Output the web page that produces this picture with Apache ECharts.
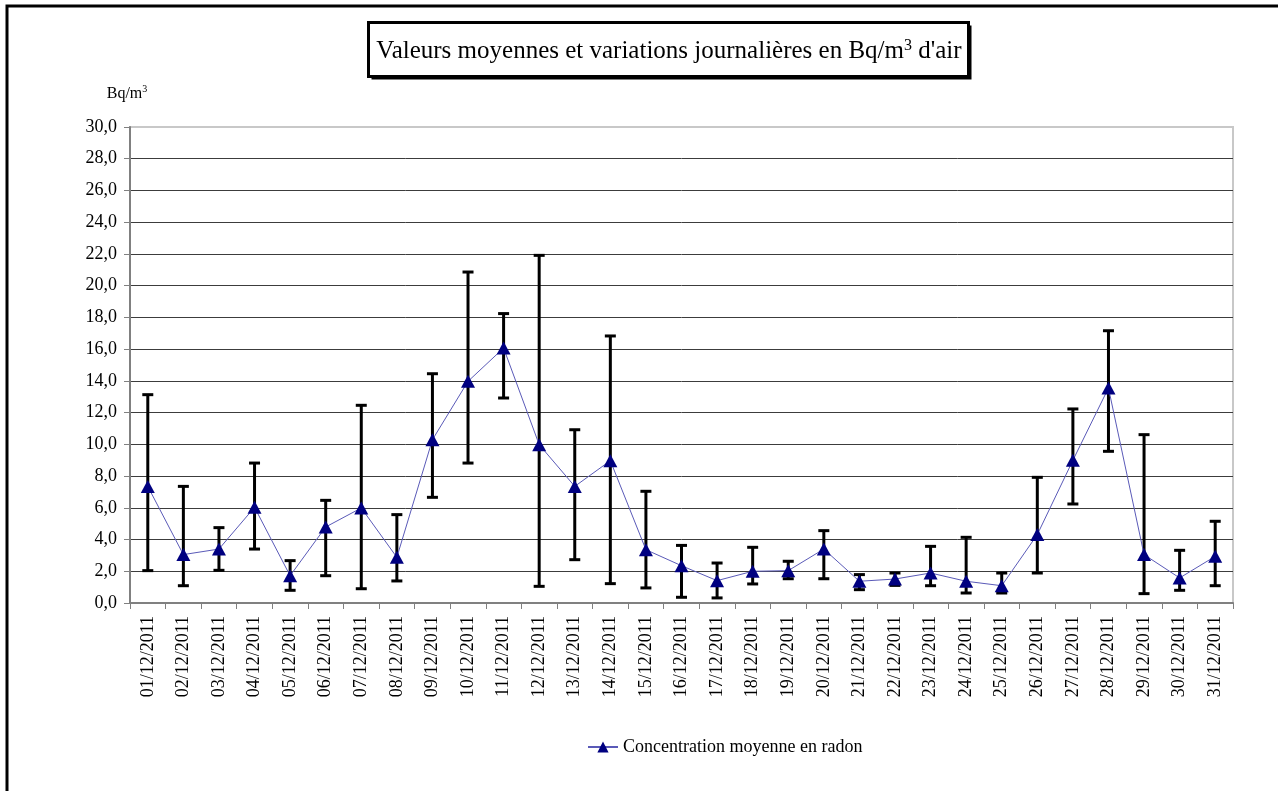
<!DOCTYPE html>
<html>
<head>
<meta charset="utf-8">
<script src="https://cdn.jsdelivr.net/npm/echarts@6/dist/echarts.min.js"></script>
<style>
  html, body { margin: 0; padding: 0; background: #fff; }
  #chart { width: 1278px; height: 791px; }
</style>
</head>
<body>
<div id="chart"></div>
<script>
// days of December 2011
const dates = [
  "01/12/2011", "02/12/2011", "03/12/2011", "04/12/2011", "05/12/2011", "06/12/2011",
  "07/12/2011", "08/12/2011", "09/12/2011", "10/12/2011", "11/12/2011", "12/12/2011",
  "13/12/2011", "14/12/2011", "15/12/2011", "16/12/2011", "17/12/2011", "18/12/2011",
  "19/12/2011", "20/12/2011", "21/12/2011", "22/12/2011", "23/12/2011", "24/12/2011",
  "25/12/2011", "26/12/2011", "27/12/2011", "28/12/2011", "29/12/2011", "30/12/2011",
  "31/12/2011"
];

// daily mean radon concentration (Bq/m3)
const means = [
  7.35, 3.05, 3.4, 6.03, 1.72, 4.79, 5.99, 2.88, 10.29, 13.97, 16.07, 9.98,
  7.35, 8.97, 3.36, 2.35, 1.41, 2.0, 2.04, 3.4, 1.37, 1.51, 1.89, 1.37,
  1.09, 4.31, 8.99, 13.55, 3.05, 1.58, 2.94
];

// daily max (top of error bar)
const highs = [
  13.13, 7.35, 4.75, 8.82, 2.67, 6.47, 12.46, 5.57, 14.45, 20.86, 18.24, 21.91,
  10.92, 16.83, 7.04, 3.63, 2.52, 3.51, 2.63, 4.56, 1.79, 1.89, 3.57, 4.14,
  1.89, 7.92, 12.23, 17.16, 10.61, 3.32, 5.15
];

// daily min (bottom of error bar)
const lows = [
  2.04, 1.09, 2.06, 3.4, 0.8, 1.72, 0.9, 1.39, 6.66, 8.82, 12.92, 1.05,
  2.73, 1.22, 0.95, 0.36, 0.32, 1.2, 1.53, 1.53, 0.84, 1.11, 1.09, 0.63,
  0.63, 1.89, 6.24, 9.56, 0.59, 0.8, 1.09
];

const yTicks = { min: 0, max: 30, step: 2 };

const seriesName = "Concentration moyenne en radon";
const font = "'Liberation Serif', 'Times New Roman', serif";

const chart = echarts.init(document.getElementById("chart"), null, { renderer: "canvas" });

/** grid line colours: dark lines, light top edge */
const splitColors = [];
for (let v = yTicks.min; v <= yTicks.max; v += yTicks.step) {
  splitColors.push(v === yTicks.max ? "#c8c8c8" : "#3c3c3c");
}

/** draw one error bar with caps */
const renderErrorBar = (params, api) => {
  const idx = api.value(0);
  const top = api.coord([idx, api.value(1)]);
  const bottom = api.coord([idx, api.value(2)]);
  const half = 5.5;
  const style = { stroke: "#000", lineWidth: 3 };
  return {
    type: "group",
    children: [
      { type: "line", shape: { x1: top[0], y1: top[1], x2: bottom[0], y2: bottom[1] }, style },
      { type: "line", shape: { x1: top[0] - half, y1: top[1], x2: top[0] + half, y2: top[1] }, style },
      { type: "line", shape: { x1: bottom[0] - half, y1: bottom[1], x2: bottom[0] + half, y2: bottom[1] }, style },
    ],
  };
};

const option = {
  animation: false,
  backgroundColor: "#fff",
  textStyle: { fontFamily: font, color: "#000" },

  graphic: [
    // outer frame
    {
      type: "rect",
      shape: { x: 7, y: 6, width: 1400, height: 900 },
      style: { fill: "none", stroke: "#000", lineWidth: 3 },
      silent: true,
    },
    // title box shadow
    {
      type: "rect",
      shape: { x: 371.5, y: 25.5, width: 600, height: 54 },
      style: { fill: "#000" },
      silent: true,
    },
    // title box
    {
      type: "rect",
      shape: { x: 368.5, y: 22.5, width: 600, height: 54 },
      style: { fill: "#fff", stroke: "#000", lineWidth: 3 },
      silent: true,
    },
    {
      type: "text",
      x: 669,
      y: 51,
      style: {
        text: "Valeurs moyennes et variations journalières en Bq/m{sup|3} d'air",
        font: "25px " + font,
        fill: "#000",
        align: "center",
        verticalAlign: "middle",
        rich: {
          sup: { fontSize: 16, fontFamily: font, verticalAlign: "top", lineHeight: 27 },
        },
      },
      silent: true,
    },
    // y unit
    {
      type: "text",
      x: 127,
      y: 94,
      style: {
        text: "Bq/m{sup|3}",
        font: "16px " + font,
        fill: "#000",
        align: "center",
        verticalAlign: "middle",
        rich: {
          sup: { fontSize: 10, fontFamily: font, verticalAlign: "top", lineHeight: 19 },
        },
      },
      silent: true,
    },
  ],

  grid: {
    left: 130,
    right: 45,
    top: 127,
    bottom: 188,
    show: true,
    borderColor: "#c8c8c8",
    borderWidth: 2,
    backgroundColor: "#fff",
  },

  legend: {
    data: [seriesName],
    left: 582,
    top: 733,
    itemWidth: 30,
    itemHeight: 14,
    itemGap: 8,
    textStyle: { fontFamily: font, fontSize: 18, color: "#000" },
  },

  xAxis: {
    type: "category",
    data: dates,
    boundaryGap: true,
    axisLine: { lineStyle: { color: "#808080", width: 2 } },
    axisTick: { show: true, length: 6, lineStyle: { color: "#808080", width: 1 } },
    axisLabel: {
      interval: 0,
      rotate: 90,
      margin: 13,
      fontFamily: font,
      fontSize: 18,
      color: "#000",
    },
    splitLine: { show: false },
  },

  yAxis: {
    type: "value",
    min: yTicks.min,
    max: yTicks.max,
    interval: yTicks.step,
    axisLine: { show: true, lineStyle: { color: "#808080", width: 2 } },
    axisTick: { show: true, length: 6, lineStyle: { color: "#808080", width: 1 } },
    axisLabel: {
      margin: 13,
      fontFamily: font,
      fontSize: 18,
      color: "#000",
      formatter: (v) => v.toFixed(1).replace(".", ","),
    },
    splitLine: { show: true, lineStyle: { color: splitColors, width: 1 } },
  },

  series: [
    {
      name: "errors",
      type: "custom",
      renderItem: renderErrorBar,
      encode: { x: 0, y: [1, 2] },
      data: dates.map((d, i) => [i, highs[i], lows[i]]),
      z: 2,
      silent: true,
    },
    {
      name: seriesName,
      type: "line",
      data: means,
      symbol: "triangle",
      symbolSize: [14, 13],
      lineStyle: { color: "#5a5ab8", width: 1 },
      itemStyle: { color: "#000080", borderWidth: 0 },
      z: 3,
    },
  ],
};

chart.setOption(option);
</script>
</body>
</html>
